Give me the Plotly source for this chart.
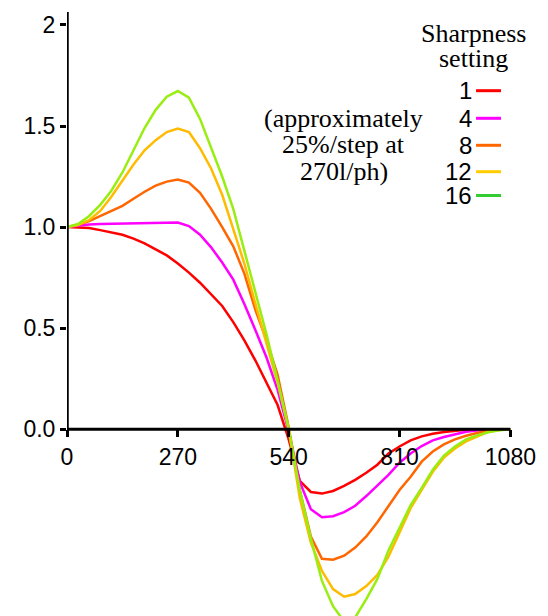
import plotly.graph_objects as go

# ---------------- data ----------------
x_vals = [0, 27, 54, 81, 108, 135, 162, 189, 216, 243, 270, 297, 324, 351, 378, 405,
          432, 459, 486, 513, 540, 567, 594, 621, 648, 675, 702, 729, 756, 783, 810,
          837, 864, 891, 918, 945, 972, 999, 1026, 1053, 1080]

sharp_1 = [1.00, 0.998, 0.995, 0.985, 0.975, 0.962, 0.943, 0.92, 0.89, 0.86, 0.82,
           0.775, 0.725, 0.67, 0.61, 0.53, 0.44, 0.34, 0.23, 0.12, -0.05,
           -0.255, -0.31, -0.318, -0.305, -0.28, -0.25, -0.215, -0.175, -0.12, -0.085,
           -0.055, -0.035, -0.022, -0.013, -0.006, -0.002, 0.0, 0.0, 0.0, 0.0]

sharp_4 = [1.00, 1.008, 1.013, 1.015, 1.016, 1.017, 1.018, 1.019, 1.021, 1.024, 1.023,
           1.005, 0.962, 0.90, 0.825, 0.74, 0.62, 0.49, 0.355, 0.195, -0.01,
           -0.26, -0.395, -0.435, -0.43, -0.41, -0.378, -0.33, -0.28, -0.225, -0.165,
           -0.12, -0.083, -0.055, -0.038, -0.025, -0.012, -0.006, -0.002, 0.0, 0.0]

sharp_8 = [1.00, 1.012, 1.03, 1.055, 1.08, 1.105, 1.14, 1.175, 1.205, 1.225, 1.235,
           1.22, 1.17, 1.09, 1.00, 0.905, 0.77, 0.59, 0.44, 0.27, 0.01,
           -0.30, -0.53, -0.64, -0.645, -0.625, -0.585, -0.53, -0.46, -0.38, -0.30,
           -0.235, -0.16, -0.11, -0.075, -0.05, -0.032, -0.018, -0.007, -0.002, 0.0]

sharp_12 = [1.00, 1.01, 1.035, 1.08, 1.15, 1.23, 1.31, 1.38, 1.43, 1.47, 1.487,
            1.47, 1.39, 1.29, 1.16, 0.99, 0.82, 0.62, 0.43, 0.23, 0.0,
            -0.34, -0.56, -0.70, -0.79, -0.828, -0.815, -0.775, -0.72, -0.63, -0.51,
            -0.39, -0.30, -0.21, -0.14, -0.095, -0.06, -0.035, -0.012, -0.004, 0.0]

sharp_16 = [1.00, 1.015, 1.055, 1.11, 1.18, 1.27, 1.38, 1.49, 1.58, 1.645, 1.673,
            1.64, 1.535, 1.39, 1.25, 1.09, 0.88, 0.68, 0.47, 0.24, 0.0,
            -0.30, -0.54, -0.75, -0.875, -0.95, -0.93, -0.84, -0.74, -0.60, -0.49,
            -0.375, -0.29, -0.20, -0.13, -0.085, -0.05, -0.03, -0.015, -0.005, 0.0]

series_names = ["1", "4", "8", "12", "16"]
series_values = [sharp_1, sharp_4, sharp_8, sharp_12, sharp_16]
curve_colors = ["#ff0000", "#ff00ff", "#ff6600", "#ffbb00", "#99ee11"]
legend_colors = ["#ff0000", "#ff00ff", "#ff6600", "#ffcc00", "#33cc33"]

x_ticks = [0, 270, 540, 810, 1080]
y_ticks = [0.0, 0.5, 1.0, 1.5, 2.0]
y_tick_text = ["0.0", "0.5", "1.0", "1.5", "2"]

title_lines = ["Sharpness", "setting"]
note_lines = ["(approximately", "25%/step at", "270l/ph)"]

# ---------------- layout helpers ----------------
OFF = 8                      # page body margin
W, H = 548 - OFF, 616 - OFF  # figure size fitting inside the window
L = 66.7 - OFF               # left margin -> y axis position
X0_SCREEN_Y = 429.3          # screen y of value 0
SANS = "Liberation Sans, Arial, sans-serif"
SERIF = "Liberation Serif, Times New Roman, serif"


def pxx(xs):
    """screen x pixel -> paper x"""
    return (xs - OFF - L) / (W - L)


def pxy(ys):
    """screen y pixel -> paper y"""
    return 1 - (ys - OFF) / H


X_MAX = (W - L) / 0.4108
Y_TOP = (X0_SCREEN_Y - OFF) / 202.2
Y_BOT = -(H - (X0_SCREEN_Y - OFF)) / 202.2

fig = go.Figure()
for name, vals, col in zip(series_names, series_values, curve_colors):
    fig.add_trace(go.Scatter(x=x_vals, y=vals, mode="lines", name=name,
                             line=dict(color=col, width=2.5), showlegend=False))

shapes = [
    dict(type="line", xref="x", yref="y", x0=0, x1=0, y0=0, y1=2.064,
         line=dict(color="black", width=3.5)),
    dict(type="line", xref="x", yref="y", x0=0, x1=1080, y0=0, y1=0,
         line=dict(color="black", width=3)),
]
legend_y = [90.7, 118.3, 145.3, 171.7, 195.5]
annotations = []
for name, col, yp in zip(series_names, legend_colors, legend_y):
    shapes.append(dict(type="line", xref="paper", yref="paper",
                       x0=pxx(476), x1=pxx(501), y0=pxy(yp), y1=pxy(yp),
                       line=dict(color=col, width=3)))
    annotations.append(dict(text=name, xref="paper", yref="paper", x=pxx(474),
                            y=pxy(yp), xanchor="right", yanchor="middle",
                            showarrow=False, font=dict(family=SANS, size=24, color="black")))

for txt, yp in zip(title_lines, [34, 58]):
    annotations.append(dict(text=txt, xref="paper", yref="paper", x=pxx(473.5),
                            y=pxy(yp), xanchor="center", yanchor="middle",
                            showarrow=False, font=dict(family=SERIF, size=26, color="black")))
for txt, yp in zip(note_lines, [118.3, 145, 171]):
    annotations.append(dict(text=txt, xref="paper", yref="paper", x=pxx(343.5),
                            y=pxy(yp), xanchor="center", yanchor="middle",
                            showarrow=False, font=dict(family=SERIF, size=26, color="black")))

fig.update_layout(
    width=W, height=H,
    margin=dict(l=L, r=0, t=0, b=0, pad=0),
    paper_bgcolor="white", plot_bgcolor="white",
    font=dict(family=SANS, size=23, color="black"),
    shapes=shapes, annotations=annotations,
    xaxis=dict(range=[0, X_MAX], anchor="free", position=pxy(X0_SCREEN_Y),
               showgrid=False, zeroline=False, showline=False,
               ticks="outside", ticklen=7, tickwidth=3, tickcolor="black",
               tickvals=x_ticks, ticktext=[str(v) for v in x_ticks],
               tickfont=dict(family=SANS, size=23, color="black"), automargin=False),
    yaxis=dict(range=[Y_BOT, Y_TOP], showgrid=False, zeroline=False, showline=False,
               ticks="outside", ticklen=6, tickwidth=3, tickcolor="black",
               tickvals=y_ticks, ticktext=y_tick_text,
               tickfont=dict(family=SANS, size=23, color="black"), automargin=False),
)

fig.write_html("out.html")
